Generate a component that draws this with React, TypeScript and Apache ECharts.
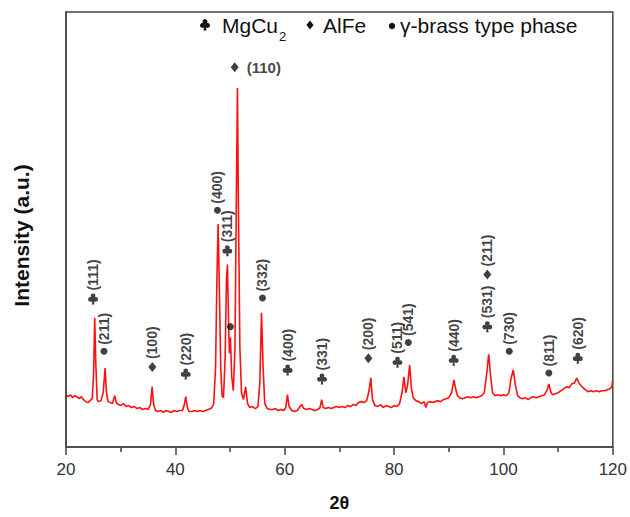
import React, { useEffect, useRef } from "react";
import * as echarts from "echarts";

// XRD pattern: 2θ (deg) and intensity (a.u.)
const twoTheta = [
  20.0, 20.4, 20.8, 21.2, 21.6, 22.0, 22.4, 22.8, 23.2, 23.6, 24.0, 24.4, 24.8, 25.05, 25.25, 25.45, 25.7, 26.0, 26.4, 26.8,
  27.15, 27.4, 27.7, 28.1, 28.5, 28.9, 29.2, 29.6, 30.0, 30.5, 31.0, 31.5, 32.0, 32.5, 33.0, 33.5, 34.0, 34.5, 35.0, 35.45,
  35.75, 36.05, 36.4, 36.8, 37.3, 37.8, 38.3, 38.8, 39.3, 39.8, 40.3, 40.8, 41.3, 41.6, 41.9, 42.2, 42.5, 43.0, 43.5, 44.0,
  44.5, 45.0, 45.5, 46.0, 46.5, 47.0, 47.35, 47.6, 47.82, 48.05, 48.3, 48.55, 48.8, 49.1, 49.35, 49.53, 49.75, 49.9, 50.07, 50.3,
  50.6, 50.9, 51.15, 51.35, 51.55, 51.8, 52.1, 52.45, 52.85, 53.2, 53.6, 54.1, 54.6, 55.1, 55.45, 55.75, 56.05, 56.35, 56.8, 57.3,
  57.8, 58.3, 58.8, 59.3, 59.8, 60.2, 60.5, 60.8, 61.3, 61.8, 62.3, 62.8, 63.1, 63.5, 64.0, 64.5, 65.0, 65.5, 66.0, 66.45,
  66.75, 67.05, 67.5, 68.0, 68.5, 69.0, 69.5, 70.0, 70.5, 71.0, 71.5, 72.0, 72.5, 73.0, 73.5, 74.0, 74.5, 75.0, 75.45, 75.75,
  76.05, 76.5, 77.0, 77.5, 78.0, 78.5, 79.0, 79.5, 80.0, 80.5, 81.0, 81.45, 81.8, 82.15, 82.45, 82.85, 83.15, 83.5, 84.0, 84.5,
  85.0, 85.5, 85.8, 86.1, 86.5, 87.0, 87.5, 88.0, 88.5, 89.0, 89.5, 90.0, 90.5, 90.95, 91.3, 91.6, 92.0, 92.5, 93.0, 93.5,
  94.0, 94.5, 95.0, 95.5, 96.0, 96.5, 96.95, 97.3, 97.65, 98.0, 98.5, 99.0, 99.5, 100.0, 100.5, 101.0, 101.4, 101.8, 102.2, 102.6,
  103.0, 103.5, 104.0, 104.5, 105.0, 105.5, 106.0, 106.5, 107.0, 107.5, 108.0, 108.3, 108.7, 109.0, 109.5, 110.0, 110.5, 111.0, 111.5, 112.0,
  112.5, 113.0, 113.4, 113.8, 114.2, 114.6, 115.0, 115.5, 116.0, 116.5, 117.0, 117.5, 118.0, 118.5, 119.0, 119.5, 119.8, 120.0,
];
const intensity = [
  53, 51, 53, 50, 52, 51, 49, 51, 48, 46, 45, 47, 49, 75, 131, 85, 48, 46, 47, 55,
  80, 55, 46, 45, 44, 52, 45, 43, 42, 44, 41, 42, 40, 41, 39, 40, 38, 39, 38, 43,
  61, 42, 37, 36, 37, 35, 37, 36, 35, 37, 36, 37, 37, 42, 51, 40, 36, 36, 37, 36,
  37, 36, 37, 38, 39, 43, 80, 170, 226, 160, 80, 52, 50, 90, 170, 185, 120, 95, 111, 72,
  57, 100, 250, 364, 230, 100, 55, 48, 61, 44, 40, 41, 39, 41, 65, 136, 80, 44, 39, 38,
  38, 39, 37, 38, 37, 40, 53, 41, 37, 36, 37, 41, 43, 39, 38, 39, 38, 37, 38, 40,
  48, 40, 39, 40, 39, 40, 41, 40, 41, 40, 42, 41, 43, 42, 45, 46, 45, 47, 58, 70,
  48, 42, 41, 43, 40, 42, 41, 40, 42, 41, 44, 55, 71, 55, 62, 83, 60, 50, 47, 46,
  44, 46, 40, 45, 46, 45, 46, 47, 46, 48, 49, 50, 55, 68, 58, 52, 50, 49, 50, 51,
  50, 51, 50, 51, 52, 55, 75, 94, 72, 55, 52, 53, 52, 53, 52, 55, 70, 78, 62, 52,
  50, 49, 50, 48, 50, 51, 50, 51, 52, 53, 58, 64, 55, 53, 54, 55, 57, 59, 61, 60,
  64, 65, 70, 65, 62, 60, 58, 56, 57, 56, 57, 56, 57, 57, 58, 59, 61, 68,
];

// Peak annotations: [2θ, marker height (a.u.), hkl]
const mgcu2Peaks: [number, number, string][] = [
  [24.95, 150, "(111)"], [41.9, 74, "(220)"], [49.5, 199, "(311)"], [60.53, 78, "(400)"],
  [66.82, 69, "(331)"], [80.62, 86, "(511)"], [90.9, 88, "(440)"], [97.05, 122, "(531)"], [113.6, 90, "(620)"],
];
const alfePeaks: [number, number, string][] = [
  [35.79, 81, "(100)"], [50.85, 385, "(110)"], [75.3, 90, "(200)"], [97.05, 175, "(211)"],
];
const gammaPeaks: [number, number, string][] = [
  [26.95, 97, "(211)"], [47.7, 240, "(400)"], [50.07, 122, ""], [55.93, 151, "(332)"],
  [82.6, 106, "(541)"], [101.06, 97, "(730)"], [108.3, 75, "(811)"],
];

const xTicks = { min: 20, max: 120, interval: 20 };
const yRange = { min: 0, max: 441 };

const W = 630;
const H = 517;
const FONT = "'Liberation Sans', Arial, Helvetica, sans-serif";
const CLUB =
  "path://M27,27A23,23 0 1,1 73,27A23,23 0 1,1 27,27Z M2,62A23,23 0 1,1 48,62A23,23 0 1,1 2,62Z M52,62A23,23 0 1,1 98,62A23,23 0 1,1 52,62Z M46,50L54,50L62,112L38,112Z";

const hklLabel = {
  show: true,
  position: "top" as const,
  distance: 3,
  rotate: 90,
  align: "left" as const,
  verticalAlign: "middle" as const,
  fontSize: 14,
  fontWeight: "bold" as const,
  fontFamily: FONT,
  color: "#111",
  formatter: (p: any) => p.value[2],
};

function toData(list: [number, number, string][]) {
  return list.map((d) => {
    if (d[2] === "(110)") {
      return {
        value: d,
        label: {
          rotate: 0,
          position: "right",
          distance: 8,
          align: "left",
          verticalAlign: "middle",
          fontSize: 15,
        },
      };
    }
    return { value: d };
  });
}

export default function App() {
  const ref = useRef<HTMLDivElement>(null);
  useEffect(() => {
    if (!ref.current) return;
    const chart = echarts.init(ref.current, undefined, { renderer: "svg", width: W, height: H });
    const curve = twoTheta.map((x, i) => [x, intensity[i]]);
    chart.setOption({
      animation: false,
      backgroundColor: "#ffffff",
      grid: {
        left: 66,
        right: 13,
        top: 12,
        bottom: 64,
        show: true,
        borderColor: "#444",
        borderWidth: 1.5,
        backgroundColor: "transparent",
      },
      xAxis: {
        type: "value",
        min: xTicks.min,
        max: xTicks.max,
        interval: xTicks.interval,
        name: "2θ",
        nameLocation: "middle",
        nameGap: 47,
        nameTextStyle: { fontSize: 18, fontWeight: "bold", fontFamily: FONT, color: "#111" },
        axisLine: { show: true, lineStyle: { color: "#444", width: 1.5 } },
        axisTick: { show: true, length: 8, lineStyle: { color: "#444", width: 1.5 } },
        minorTick: { show: true, splitNumber: 2, length: 5, lineStyle: { color: "#444", width: 1.5 } },
        splitLine: { show: false },
        minorSplitLine: { show: false },
        axisLabel: { fontSize: 17, color: "#333", fontFamily: FONT, margin: 14 },
      },
      yAxis: {
        type: "value",
        min: yRange.min,
        max: yRange.max,
        name: "Intensity (a.u.)",
        nameLocation: "middle",
        nameGap: 34,
        nameTextStyle: { fontSize: 21, fontWeight: "bold", fontFamily: FONT, color: "#111", padding: [0, 12, 0, 0] },
        axisLine: { show: true, lineStyle: { color: "#444", width: 1.5 } },
        axisTick: { show: false },
        axisLabel: { show: false },
        splitLine: { show: false },
      },
      graphic: [
        {
          type: "group",
          children: [
            { type: "circle", shape: { cx: 205, cy: 21.6, r: 2.5 }, style: { fill: "#111" } },
            { type: "circle", shape: { cx: 202.5, cy: 25.4, r: 2.5 }, style: { fill: "#111" } },
            { type: "circle", shape: { cx: 207.5, cy: 25.4, r: 2.5 }, style: { fill: "#111" } },
            { type: "polygon", shape: { points: [[204.5, 24], [205.5, 24], [206.5, 30.5], [203.5, 30.5]] }, style: { fill: "#111" } },
          ],
        },
        { type: "text", x: 222, y: 25, style: { text: "MgCu", fontSize: 21, fontFamily: FONT, fill: "#111", verticalAlign: "middle" } },
        { type: "text", x: 279, y: 36, style: { text: "2", fontSize: 13, fontFamily: FONT, fill: "#111", verticalAlign: "middle" } },
        { type: "polygon", shape: { points: [[310, 20.5], [313.5, 25], [310, 29.5], [306.5, 25]] }, style: { fill: "#111" } },
        { type: "text", x: 323, y: 25, style: { text: "AlFe", fontSize: 21, fontFamily: FONT, fill: "#111", verticalAlign: "middle" } },
        { type: "circle", shape: { cx: 392, cy: 26, r: 3.2 }, style: { fill: "#111" } },
        { type: "text", x: 400, y: 25, style: { text: "γ-brass type phase", fontSize: 21, fontFamily: FONT, fill: "#111", verticalAlign: "middle" } },
      ],
      series: [
        {
          type: "line",
          data: curve,
          symbol: "none",
          lineStyle: { color: "#ff1010", width: 1.6 },
          z: 2,
        },
        {
          name: "MgCu2",
          type: "scatter",
          data: toData(mgcu2Peaks),
          symbol: CLUB,
          symbolSize: [10, 11],
          itemStyle: { color: "#111" },
          label: hklLabel,
          z: 5,
        },
        {
          name: "AlFe",
          type: "scatter",
          data: toData(alfePeaks),
          symbol: "diamond",
          symbolSize: [8, 10],
          itemStyle: { color: "#111" },
          label: hklLabel,
          z: 5,
        },
        {
          name: "γ-brass type phase",
          type: "scatter",
          data: toData(gammaPeaks),
          symbol: "circle",
          symbolSize: 7,
          itemStyle: { color: "#111" },
          label: hklLabel,
          z: 5,
        },
      ],
    });
    return () => chart.dispose();
  }, []);
  return (
    <div
      ref={ref}
      style={{ position: "fixed", left: 0, top: 0, width: W, height: H, background: "#fff" }}
    />
  );
}
